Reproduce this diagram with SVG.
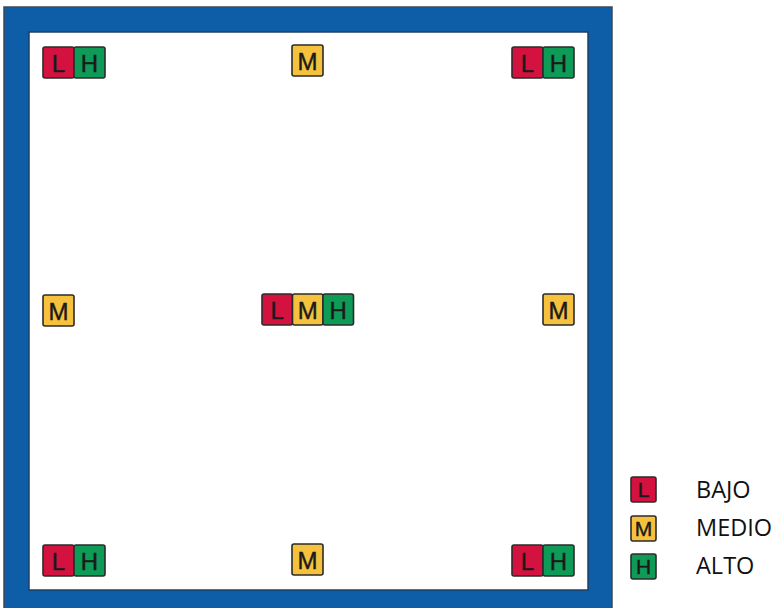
<svg xmlns="http://www.w3.org/2000/svg" width="782" height="608" viewBox="0 0 782 608">
<style>
.frame{fill:#0d5ea6;stroke:#3a4a5a;stroke-width:1.5}
.inner{fill:#ffffff;stroke:#1d3f66;stroke-width:1.5}
.c{stroke:#2b2b2b;stroke-width:1.6}
.L{fill:#d4123f}
.M{fill:#f6c23e}
.H{fill:#0e9a57}
.t{font-family:"Liberation Sans",Arial,sans-serif;font-size:24px;fill:#1a1a1a;text-anchor:middle;stroke:#1a1a1a;stroke-width:0.4}
.s{font-size:21px}
.lg{font-family:"Open Sans","Liberation Sans",sans-serif;font-size:23.5px;fill:#111}
</style>
<rect class="frame" x="4" y="7" width="608" height="603"/>
<rect class="inner" x="29" y="32" width="559" height="558"/>

<g id="node-top-left">
<rect class="c L" x="43" y="47" width="31" height="31" rx="2"/><text class="t" x="58.5" y="71.5">L</text>
<rect class="c H" x="74" y="47" width="31" height="31" rx="2"/><text class="t" x="89.5" y="71.5">H</text>
</g>
<g id="node-top-mid">
<rect class="c M" x="292" y="45" width="31" height="31" rx="2"/><text class="t" x="307.5" y="69.5">M</text>
</g>
<g id="node-top-right">
<rect class="c L" x="512" y="47" width="31" height="31" rx="2"/><text class="t" x="527.5" y="71.5">L</text>
<rect class="c H" x="543" y="47" width="31" height="31" rx="2"/><text class="t" x="558.5" y="71.5">H</text>
</g>
<g id="node-mid-left">
<rect class="c M" x="43" y="295" width="31" height="31" rx="2"/><text class="t" x="58.5" y="319.5">M</text>
</g>
<g id="node-center">
<rect class="c L" x="262" y="294" width="30.5" height="31" rx="2"/><text class="t" x="277.2" y="318.5">L</text>
<rect class="c M" x="292.5" y="294" width="30.5" height="31" rx="2"/><text class="t" x="307.7" y="318.5">M</text>
<rect class="c H" x="323" y="294" width="30.5" height="31" rx="2"/><text class="t" x="338.2" y="318.5">H</text>
</g>
<g id="node-mid-right">
<rect class="c M" x="543" y="294" width="31" height="31" rx="2"/><text class="t" x="558.5" y="318.5">M</text>
</g>
<g id="node-bottom-left">
<rect class="c L" x="43" y="545" width="31" height="31" rx="2"/><text class="t" x="58.5" y="569.5">L</text>
<rect class="c H" x="74" y="545" width="31" height="31" rx="2"/><text class="t" x="89.5" y="569.5">H</text>
</g>
<g id="node-bottom-mid">
<rect class="c M" x="292" y="544" width="31" height="31" rx="2"/><text class="t" x="307.5" y="568.5">M</text>
</g>
<g id="node-bottom-right">
<rect class="c L" x="512" y="545" width="31" height="31" rx="2"/><text class="t" x="527.5" y="569.5">L</text>
<rect class="c H" x="543" y="545" width="31" height="31" rx="2"/><text class="t" x="558.5" y="569.5">H</text>
</g>
<g id="connectors"></g>

<g id="legend">
<g id="legend-low">
<rect class="c L" x="631" y="477" width="25" height="25" rx="2"/><text class="t s" x="643.5" y="497">L</text>
<text class="lg" x="696" y="498">BAJO</text>
</g>
<g id="legend-mid">
<rect class="c M" x="631" y="516" width="25" height="25" rx="2"/><text class="t s" x="643.5" y="536">M</text>
<text class="lg" x="696" y="536">MEDIO</text>
</g>
<g id="legend-high">
<rect class="c H" x="631" y="554" width="25" height="25" rx="2"/><text class="t s" x="643.5" y="574">H</text>
<text class="lg" x="696" y="574">ALTO</text>
</g>
</g>
</svg>
